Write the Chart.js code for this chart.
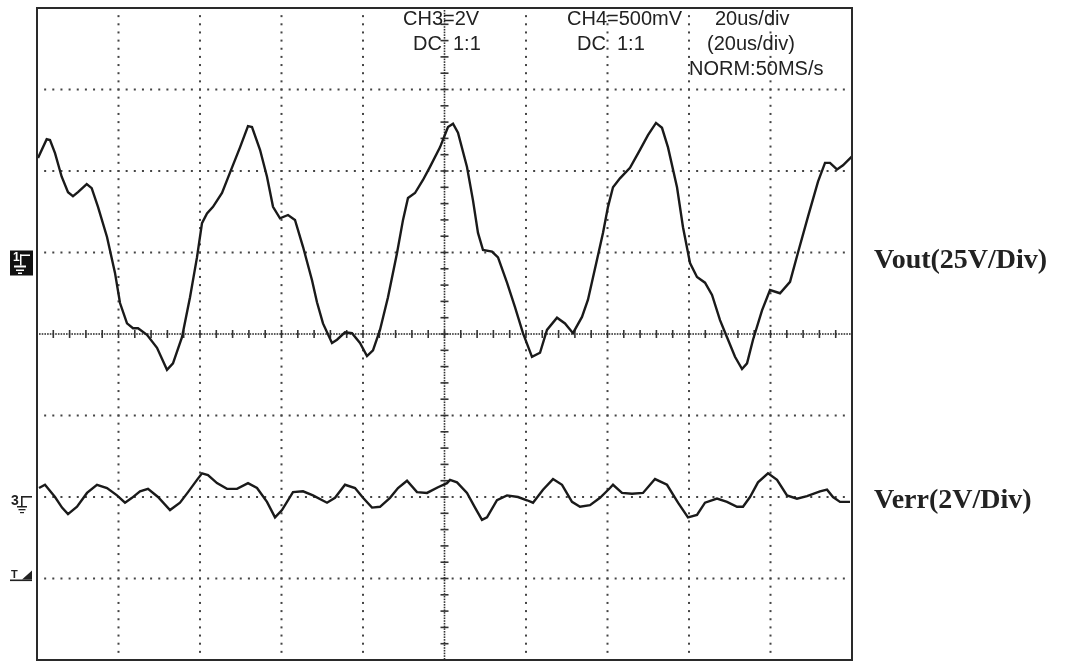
<!DOCTYPE html>
<html>
<head>
<meta charset="utf-8">
<script src="https://cdn.jsdelivr.net/npm/chart.js@4"></script>
<style>
  html, body { margin: 0; padding: 0; background: #fff; }
  #wrap { width: 1067px; height: 662px; }
</style>
</head>
<body>
<div id="wrap"><canvas id="scope" width="1067" height="662"></canvas></div>
<script>
// time axis in microseconds (20us/div, 10 div), amplitude in screen divisions (8 div, 0 = centre)
const xTicks = [0, 20, 40, 60, 80, 100, 120, 140, 160, 180, 200];
const yTicks = [-4, -3, -2, -1, 0, 1, 2, 3, 4];

const voutTime = [0.25, 2.38, 3.19, 4.42, 6.06, 7.61, 8.83, 10.06, 12.2, 13.42, 14.97, 17.18, 19.14, 20.37, 22.09, 23.56, 24.79, 26.99, 29.45, 31.9, 33.37, 35.58, 37.55, 39.26, 40.49, 41.72, 43.19, 45.4, 47.36, 49.82, 51.78, 52.76, 54.73, 56.44, 57.92, 59.63, 61.6, 63.31, 65.28, 67.49, 68.71, 70.18, 72.39, 73.62, 75.58, 77.3, 79.26, 80.98, 82.45, 84.17, 86.13, 88.34, 89.82, 91.04, 92.76, 94.72, 96.44, 98.89, 100.86, 102.09, 103.31, 105.52, 106.99, 108.22, 109.45, 111.66, 113.13, 115.34, 117.3, 119.26, 121.47, 123.44, 125.15, 127.61, 129.57, 131.53, 133.74, 135.21, 137.42, 138.89, 140.12, 141.35, 143.06, 145.52, 147.97, 149.93, 151.9, 153.37, 154.85, 157.06, 158.53, 160.25, 161.96, 163.93, 165.65, 167.61, 169.33, 171.29, 173.01, 174.24, 175.71, 177.92, 179.88, 182.33, 184.79, 186.75, 189.2, 191.66, 193.38, 194.6, 196.32, 197.79, 200];
const voutDiv = [2.16, 2.39, 2.38, 2.22, 1.93, 1.74, 1.69, 1.74, 1.84, 1.79, 1.56, 1.19, 0.75, 0.38, 0.13, 0.07, 0.07, -0.01, -0.17, -0.44, -0.36, -0.04, 0.45, 0.94, 1.36, 1.48, 1.56, 1.73, 1.98, 2.29, 2.55, 2.54, 2.26, 1.93, 1.56, 1.42, 1.46, 1.4, 1.07, 0.66, 0.39, 0.13, -0.11, -0.07, 0.02, 0.01, -0.11, -0.27, -0.2, 0.05, 0.45, 0.99, 1.4, 1.67, 1.73, 1.89, 2.05, 2.29, 2.54, 2.58, 2.47, 2.05, 1.64, 1.24, 1.03, 1.01, 0.94, 0.63, 0.33, 0.01, -0.28, -0.23, 0.05, 0.2, 0.13, 0.01, 0.21, 0.42, 0.91, 1.24, 1.56, 1.8, 1.91, 2.04, 2.26, 2.44, 2.59, 2.53, 2.29, 1.8, 1.31, 0.87, 0.7, 0.63, 0.48, 0.17, -0.04, -0.28, -0.43, -0.36, -0.07, 0.29, 0.54, 0.5, 0.64, 1.0, 1.44, 1.87, 2.1, 2.1, 2.02, 2.07, 2.18];

const verrTime = [0.49, 1.96, 4.42, 6.14, 7.61, 9.82, 12.27, 14.72, 17.18, 19.63, 21.6, 23.31, 25.28, 27.24, 29.69, 32.64, 35.09, 37.06, 39.26, 40.49, 41.96, 44.17, 46.63, 49.08, 51.78, 53.99, 56.44, 58.41, 60.12, 62.82, 65.28, 67.73, 71.17, 73.13, 75.58, 78.04, 80.0, 82.21, 84.17, 86.63, 88.59, 90.8, 93.25, 95.71, 98.41, 100.61, 101.35, 103.07, 105.52, 107.49, 109.2, 110.43, 112.88, 115.34, 118.04, 120.25, 121.72, 124.17, 126.63, 128.84, 131.29, 133.25, 135.71, 138.16, 140.61, 141.35, 143.56, 146.01, 148.71, 151.66, 154.6, 157.3, 159.75, 161.96, 163.93, 166.87, 169.33, 171.78, 173.25, 174.97, 176.93, 179.39, 181.6, 184.05, 186.5, 188.96, 192.15, 193.87, 195.34, 197.06, 199.51];
const verrDiv = [-1.89, -1.85, -2.0, -2.13, -2.21, -2.12, -1.95, -1.85, -1.89, -1.98, -2.07, -2.01, -1.93, -1.9, -2.0, -2.16, -2.07, -1.94, -1.79, -1.71, -1.73, -1.83, -1.9, -1.9, -1.83, -1.89, -2.06, -2.25, -2.16, -1.94, -1.93, -1.98, -2.07, -2.01, -1.85, -1.89, -2.01, -2.13, -2.12, -2.01, -1.89, -1.8, -1.94, -1.95, -1.88, -1.83, -1.79, -1.82, -1.95, -2.13, -2.28, -2.25, -2.04, -1.98, -2.0, -2.04, -2.07, -1.91, -1.78, -1.85, -2.06, -2.12, -2.1, -2.01, -1.89, -1.85, -1.95, -1.96, -1.95, -1.78, -1.85, -2.07, -2.25, -2.22, -2.07, -2.02, -2.06, -2.12, -2.12, -2.0, -1.82, -1.71, -1.79, -1.98, -2.02, -1.99, -1.93, -1.91, -2.0, -2.06, -2.06];

const headerText = [
  ['CH3=2V', 403, 25], ['DC  1:1', 413, 50],
  ['CH4=500mV', 567, 25], ['DC  1:1', 577, 50],
  ['20us/div', 715, 25], ['(20us/div)', 707, 50], ['NORM:50MS/s', 689, 75]
];
const channelLabels = [['Vout(25V/Div)', 0.9], ['Verr(2V/Div)', -2.05]];

const toPoints = (xs, ys) => xs.map((x, i) => ({ x: x, y: ys[i] }));

// graticule, centre scale, frame and screen text
const scopePlugin = {
  id: 'scope',
  beforeDatasetsDraw(chart) {
    const { ctx, chartArea: a, scales: { x, y } } = chart;
    const divX = (x.getPixelForValue(20) - x.getPixelForValue(0));
    const divY = (y.getPixelForValue(-1) - y.getPixelForValue(0));
    ctx.save();
    ctx.fillStyle = '#444';
    // dotted grid
    xTicks.slice(1, -1).forEach(t => {
      if (t === 100) return;
      const px = x.getPixelForValue(t);
      for (let py = a.top + divY / 10; py < a.bottom - 1; py += divY / 10) {
        ctx.fillRect(px - 1, py - 1, 2, 2);
      }
    });
    yTicks.slice(1, -1).forEach(v => {
      if (v === 0) return;
      const py = y.getPixelForValue(v);
      for (let px = a.left + divX / 10; px < a.right - 1; px += divX / 10) {
        ctx.fillRect(px - 1, py - 1, 2, 2);
      }
    });
    // centre axes: fine dots with minor ticks
    const cx = x.getPixelForValue(100), cy = y.getPixelForValue(0);
    ctx.fillStyle = '#333';
    for (let px = a.left + 2; px < a.right - 1; px += 2.7) ctx.fillRect(px, cy - 0.8, 1.6, 1.6);
    for (let py = a.top + 2; py < a.bottom - 1; py += 2.7) ctx.fillRect(cx - 0.8, py, 1.6, 1.6);
    ctx.strokeStyle = '#333';
    ctx.lineWidth = 1.6;
    for (let i = 1; i < 50; i++) {
      const px = a.left + i * divX / 5;
      ctx.beginPath(); ctx.moveTo(px, cy - 4); ctx.lineTo(px, cy + 4); ctx.stroke();
    }
    for (let i = 1; i < 40; i++) {
      const py = a.top + i * divY / 5;
      ctx.beginPath(); ctx.moveTo(cx - 4, py); ctx.lineTo(cx + 4, py); ctx.stroke();
    }
    ctx.restore();
  },
  afterDraw(chart) {
    const { ctx, chartArea: a, scales: { y } } = chart;
    ctx.save();
    // frame
    ctx.strokeStyle = '#2a2a2a';
    ctx.lineWidth = 2;
    ctx.strokeRect(a.left, a.top, a.right - a.left, a.bottom - a.top);

    // header text
    ctx.fillStyle = '#222';
    ctx.font = '20px "Liberation Sans", Arial, sans-serif';
    ctx.textBaseline = 'alphabetic';
    headerText.forEach(([s, tx, ty]) => ctx.fillText(s, tx, ty));

    // channel labels on the right
    ctx.font = 'bold 28px "Liberation Serif", "Times New Roman", serif';
    ctx.textBaseline = 'middle';
    channelLabels.forEach(([s, v]) => ctx.fillText(s, 874, y.getPixelForValue(v)));

    // channel 1 ground marker
    const g1 = y.getPixelForValue(1) + 10;
    ctx.fillStyle = '#111';
    ctx.fillRect(10, g1 - 12, 23, 25);
    ctx.fillStyle = '#fff';
    ctx.font = 'bold 12px "Liberation Sans", sans-serif';
    ctx.fillText('1', 13, g1 - 5);
    ctx.fillRect(14, g1 + 3, 12, 2);
    ctx.fillRect(16, g1 + 7, 8, 1.5);
    ctx.fillRect(18, g1 + 10, 4, 1.5);
    ctx.fillRect(20, g1 - 8, 1.5, 11);
    ctx.fillRect(20, g1 - 8, 10, 1.5);

    // channel 3 ground marker
    const g3 = y.getPixelForValue(-2);
    ctx.fillStyle = '#222';
    ctx.font = 'bold 14px "Liberation Sans", sans-serif';
    ctx.fillText('3', 11, g3 + 4);
    ctx.fillRect(21, g3 - 1, 11, 1.6);
    ctx.fillRect(21, g3 - 1, 1.6, 11);
    ctx.fillRect(17, g3 + 9, 10, 1.5);
    ctx.fillRect(18.5, g3 + 12, 7, 1.3);
    ctx.fillRect(20, g3 + 15, 4, 1.2);

    // trigger marker
    const tr = y.getPixelForValue(-3);
    ctx.font = 'bold 11px "Liberation Sans", sans-serif';
    ctx.fillText('T', 11, tr - 4);
    ctx.fillRect(10, tr + 1, 22, 1.6);
    ctx.beginPath();
    ctx.moveTo(22, tr + 1); ctx.lineTo(32, tr + 1); ctx.lineTo(32, tr - 8); ctx.closePath();
    ctx.fill();
    ctx.restore();
  }
};

new Chart(document.getElementById('scope'), {
  type: 'line',
  data: {
    datasets: [{
      label: 'Vout',
      data: toPoints(voutTime, voutDiv),
      borderColor: '#1a1a1a',
      borderWidth: 2.4,
      pointRadius: 0,
      tension: 0
    }, {
      label: 'Verr',
      data: toPoints(verrTime, verrDiv),
      borderColor: '#1a1a1a',
      borderWidth: 2.4,
      pointRadius: 0,
      tension: 0
    }]
  },
  options: {
    responsive: false,
    animation: false,
    layout: { padding: { left: 37, right: 215, top: 8, bottom: 2 } },
    plugins: { legend: { display: false }, tooltip: { enabled: false } },
    scales: {
      x: { type: 'linear', min: 0, max: 200, display: false },
      y: { type: 'linear', min: -4, max: 4, display: false }
    }
  },
  plugins: [scopePlugin]
});
</script>
</body>
</html>
